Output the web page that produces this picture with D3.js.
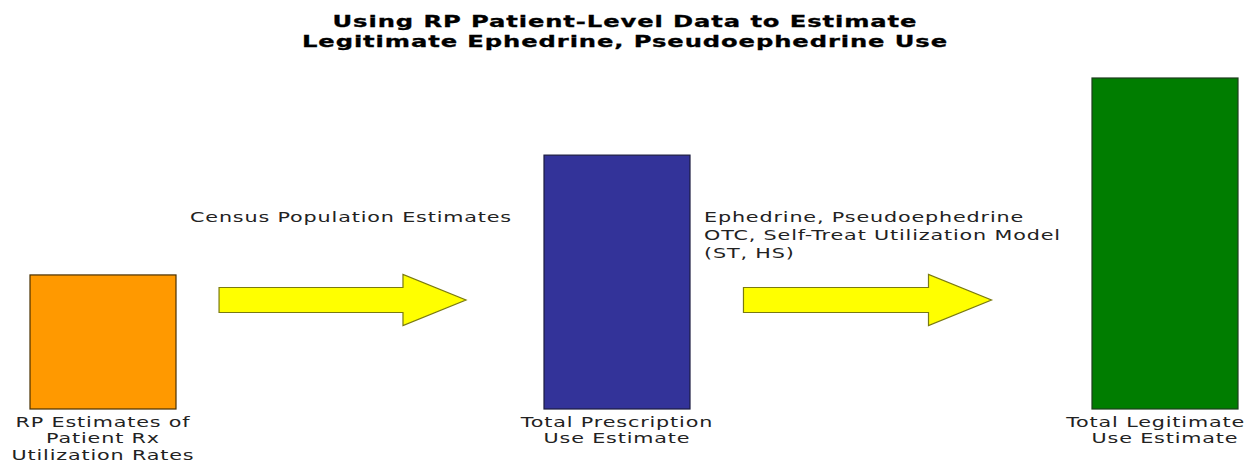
<!DOCTYPE html>
<html>
<head>
<meta charset="utf-8">
<script src="https://cdn.jsdelivr.net/npm/d3@7/dist/d3.min.js"></script>
<style>
  html, body { margin: 0; padding: 0; background: #ffffff; }
  svg { display: block; }
</style>
</head>
<body>
<svg id="chart" width="1248" height="462"></svg>
<script>
// ---- chart content ----
const titleLines = [
  "Using RP Patient-Level Data to Estimate",
  "Legitimate Ephedrine, Pseudoephedrine Use"
];
const categories = ["rpRates", "rxUse", "legitUse"];
const categoryLabels = [
  ["RP Estimates of", "Patient Rx", "Utilization Rates"],
  ["Total Prescription", "Use Estimate"],
  ["Total Legitimate", "Use Estimate"]
];
const values = [40.5, 76.7, 100];
const barColors = ["#ff9900", "#333399", "#007d00"];
const barStrokes = ["#4a3000", "#1c1c40", "#1d3d1d"];
const stepLabels = [
  ["Census Population Estimates"],
  ["Ephedrine, Pseudoephedrine", "OTC, Self-Treat Utilization Model", "(ST, HS)"]
];

// ---- layout ----
const W = 1248;
const svg = d3.select("#chart");
const barWidth = 146;
const baseY = 409;

const x = d3.scaleOrdinal().domain(categories).range([103, 617, 1165]);
const y = d3.scaleLinear().domain([0, 100]).range([baseY, 78]);

const bodyFont = "'DejaVu Sans', Verdana, sans-serif";
const bodySize = 14.5, bodySpacing = 0.6;

// stretch a text element horizontally by a factor, keeping its anchor
function stretch(sel, k) {
  sel.each(function () {
    const w = this.getComputedTextLength();
    d3.select(this).attr("textLength", w * k).attr("lengthAdjust", "spacingAndGlyphs");
  });
}

// keep centred labels inside the drawing area
function clampRight(sel, margin) {
  sel.each(function () {
    const b = this.getBBox();
    const over = b.x + b.width - (W - margin);
    if (over > 0) {
      const t = d3.select(this);
      t.attr("x", +t.attr("x") - over);
    }
  });
}

// width factors derived from the natural widths of the fonts
function measure(txt, size, weight, spacing) {
  const t = svg.append("text")
    .attr("font-family", bodyFont).attr("font-size", size)
    .attr("font-weight", weight).attr("letter-spacing", spacing).text(txt);
  const w = t.node().getComputedTextLength();
  t.remove();
  return w;
}
const kTitle = 646 / measure(titleLines[1], 16, "bold", 0.6);
const kBody = 322 / measure(stepLabels[0][0], bodySize, "normal", bodySpacing);

// ---- title ----
svg.append("g").selectAll("text").data(titleLines).join("text")
  .attr("x", 625)
  .attr("y", (d, i) => 27 + i * 20)
  .attr("text-anchor", "middle")
  .attr("font-family", bodyFont)
  .attr("font-size", 16)
  .attr("font-weight", "bold")
  .attr("letter-spacing", 0.6)
  .attr("fill", "#000")
  .attr("stroke", "#000")
  .attr("stroke-width", 0.3)
  .text(d => d)
  .call(stretch, kTitle);

// ---- bars ----
const data = categories.map((c, i) => ({ c, v: values[i], color: barColors[i], stroke: barStrokes[i], lines: categoryLabels[i] }));

svg.append("g").selectAll("rect").data(data).join("rect")
  .attr("x", d => x(d.c) - barWidth / 2)
  .attr("y", d => y(d.v))
  .attr("width", barWidth)
  .attr("height", d => y(0) - y(d.v))
  .attr("fill", d => d.color)
  .attr("stroke", d => d.stroke)
  .attr("stroke-width", 1.2);

// category labels under each bar
const catG = svg.append("g").selectAll("g").data(data).join("g");
catG.selectAll("text").data(d => d.lines.map(l => ({ l, cx: x(d.c) }))).join("text")
  .attr("x", d => d.cx)
  .attr("y", (d, i) => baseY + 17.5 + i * 16.5)
  .attr("text-anchor", "middle")
  .attr("font-family", bodyFont)
  .attr("font-size", bodySize)
  .attr("letter-spacing", bodySpacing)
  .attr("fill", "#222")
  .text(d => d.l)
  .call(stretch, kBody)
  .call(clampRight, 3);

// ---- step arrows between consecutive bars ----
const steps = d3.pairs(data).map(([a, b], i) => {
  const gapStart = x(a.c) + barWidth / 2;
  const gapEnd = x(b.c) - barWidth / 2;
  const gap = gapEnd - gapStart;
  return {
    x0: gapStart + gap * (i === 0 ? 0.117 : 0.133),
    x1: gapEnd - gap * (i === 0 ? 0.212 : 0.25),
    textX: gapStart + 14,
    lines: stepLabels[i]
  };
});

const arrowY = 300, shaftH = 25, headH = 51, headL = 63;
const arrowPath = s => {
  const hx = s.x1 - headL;
  return d3.line()([
    [s.x0, arrowY - shaftH / 2],
    [hx, arrowY - shaftH / 2],
    [hx, arrowY - headH / 2],
    [s.x1, arrowY],
    [hx, arrowY + headH / 2],
    [hx, arrowY + shaftH / 2],
    [s.x0, arrowY + shaftH / 2]
  ]) + "Z";
};

svg.append("g").selectAll("path").data(steps).join("path")
  .attr("d", arrowPath)
  .attr("fill", "#ffff00")
  .attr("stroke", "#7a7a10")
  .attr("stroke-width", 1.2)
  .attr("stroke-linejoin", "miter");

const stepG = svg.append("g").selectAll("g").data(steps).join("g");
stepG.selectAll("text").data(s => s.lines.map(l => ({ l, tx: s.textX }))).join("text")
  .attr("x", d => d.tx)
  .attr("y", (d, i) => 222 + i * 18)
  .attr("font-family", bodyFont)
  .attr("font-size", bodySize)
  .attr("letter-spacing", bodySpacing)
  .attr("fill", "#222")
  .text(d => d.l)
  .call(stretch, kBody);
</script>
</body>
</html>
